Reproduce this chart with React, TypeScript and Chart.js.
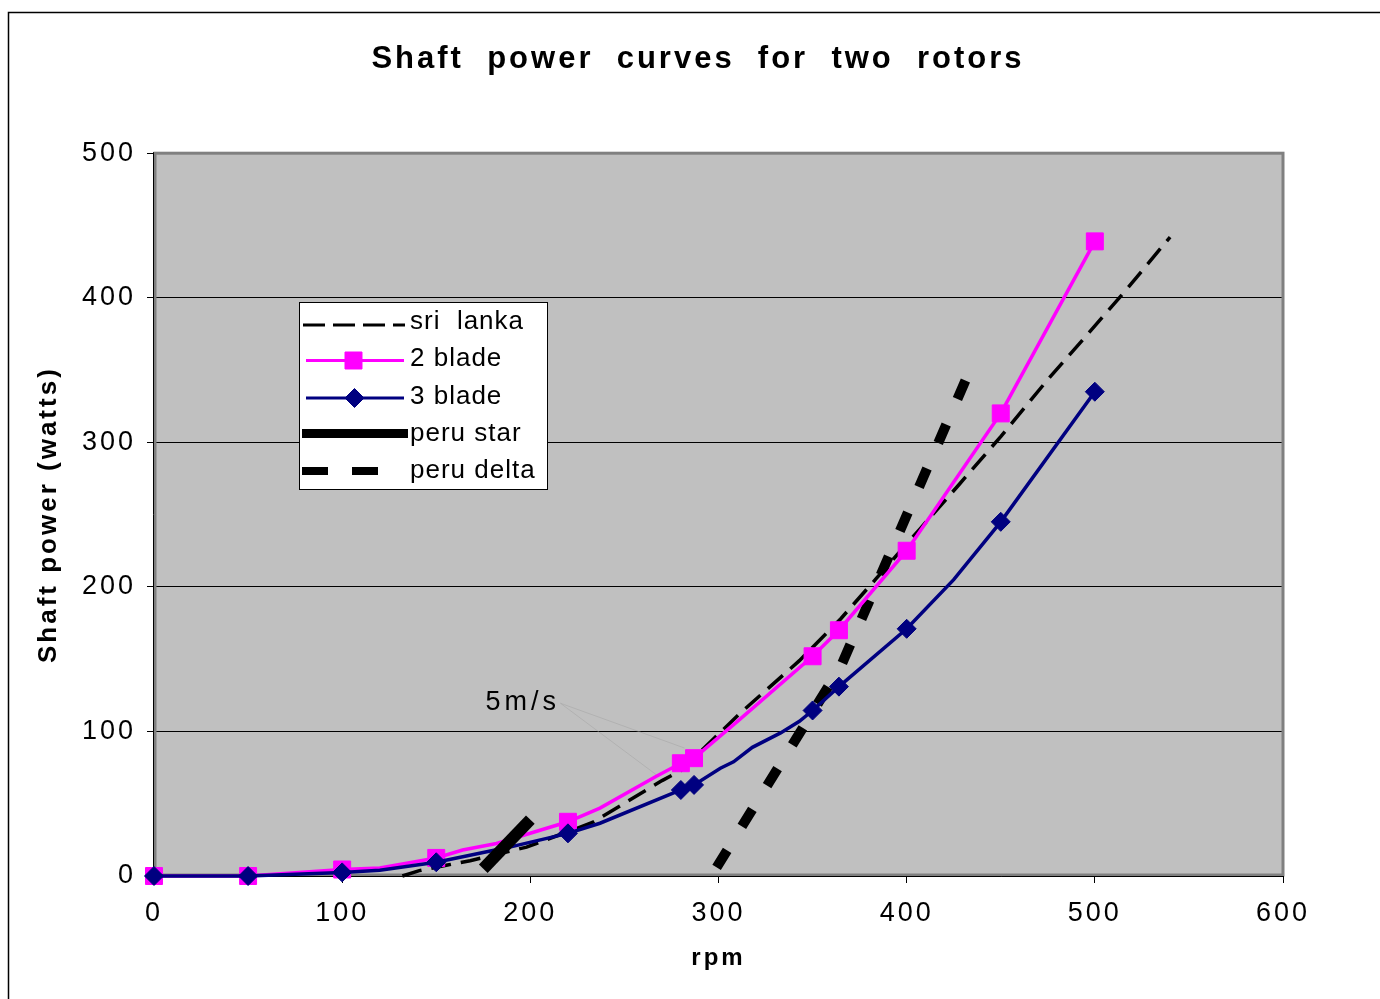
import React, { useEffect, useRef } from 'react';
import { Chart, registerables } from 'chart.js';

Chart.register(...registerables);

const FONT = '"Liberation Sans", Arial, Helvetica, sans-serif';

const chartTitle = 'Shaft  power  curves  for  two  rotors';
const xAxisTitle = 'rpm';
const yAxisTitle = 'Shaft power (watts)';
const xMin = 0;
const xMax = 600;
const xStep = 100;
const yMin = 0;
const yMax = 500;
const yStep = 100;

const seriesLabels = ['sri  lanka', '2 blade', '3 blade', 'peru star', 'peru delta'];

const sriLankaRpm = [132, 141, 156, 168, 198, 233, 270, 280, 311, 343, 365, 384, 407, 428, 450, 476, 497, 517, 540];
const sriLankaWatts = [0, 3.7, 7.6, 10.6, 20, 37, 66, 73, 112, 149, 178, 206, 240, 271, 304, 345, 376, 406, 442];

const twoBladeRpm = [0, 50, 100, 120, 150, 164, 182, 220, 237, 267, 280, 287, 311, 350, 364, 400, 450, 500];
const twoBladeWatts = [0, 0, 4.5, 5.5, 12.5, 18, 22.5, 37.5, 47, 69, 78, 81.5, 108, 152, 170, 225, 320, 439];
const twoBladeMarked = [1, 1, 1, 0, 1, 0, 0, 1, 0, 0, 1, 1, 0, 1, 1, 1, 1, 1];

const threeBladeRpm = [0, 50, 100, 120, 150, 189, 220, 237, 280, 287, 301, 308, 318, 333, 343, 350, 364, 400, 425, 450, 500];
const threeBladeWatts = [0, 0, 2.5, 4, 9.5, 20, 29.5, 36.5, 59.5, 63, 74.5, 79, 89, 99, 107, 114.5, 131, 171, 205, 245, 335];
const threeBladeMarked = [1, 1, 1, 0, 1, 0, 1, 0, 1, 1, 0, 0, 0, 0, 0, 1, 1, 1, 0, 1, 1];

const peruStarRpm = [175, 200];
const peruStarWatts = [5, 39];

const peruDeltaRpm = [299, 365, 432];
const peruDeltaWatts = [6, 145, 345];

const noteText = '5m/s';
const noteRpm = 196;
const noteWatts = 120;
const leaderFromRpm = 216;
const leaderFromWatts = 119.5;
const leaderToRpm = [267, 282];
const leaderToWatts = [70, 88.5];

const toPoints = (xs: number[], ys: number[]) => xs.map((x, i) => ({ x, y: ys[i] }));

function drawMarker(ctx: CanvasRenderingContext2D, style: string, x: number, y: number, r: number, color: string) {
  ctx.save();
  ctx.setLineDash([]);
  ctx.fillStyle = color;
  ctx.strokeStyle = color;
  ctx.lineWidth = 1;
  ctx.beginPath();
  if (style === 'rect') {
    const s = Math.SQRT1_2 * r;
    ctx.rect(x - s, y - s, 2 * s, 2 * s);
  } else {
    ctx.moveTo(x - r, y);
    ctx.lineTo(x, y - r);
    ctx.lineTo(x + r, y);
    ctx.lineTo(x, y + r);
    ctx.closePath();
  }
  ctx.fill();
  ctx.stroke();
  ctx.restore();
}

const decorPlugin = {
  id: 'decor',
  beforeDraw(chart: any) {
    const { ctx, chartArea: a } = chart;
    ctx.save();
    ctx.strokeStyle = '#000';
    ctx.lineWidth = 1.5;
    ctx.beginPath();
    ctx.moveTo(8.5, 999);
    ctx.lineTo(8.5, 12.5);
    ctx.lineTo(1380, 12.5);
    ctx.stroke();
    ctx.fillStyle = '#c0c0c0';
    ctx.fillRect(a.left, a.top, a.right - a.left, a.bottom - a.top);
    ctx.restore();
    ctx.letterSpacing = '3px';
  },
  beforeDatasetsDraw(chart: any) {
    const { ctx, chartArea: a, scales } = chart;
    ctx.letterSpacing = '0px';
    ctx.save();
    ctx.strokeStyle = '#808080';
    ctx.lineWidth = 3;
    ctx.strokeRect(a.left + 1, a.top, a.right - a.left - 1, a.bottom - a.top - 1);
    ctx.strokeStyle = '#000';
    ctx.lineWidth = 1;
    ctx.beginPath();
    ctx.moveTo(a.left - 0.5, a.top - 1);
    ctx.lineTo(a.left - 0.5, a.bottom + 0.5);
    ctx.lineTo(a.right + 1, a.bottom + 0.5);
    ctx.stroke();

    // annotation
    const xs = scales.x;
    const ys = scales.y;
    ctx.strokeStyle = 'rgba(160,160,160,0.45)';
    ctx.lineWidth = 1;
    leaderToRpm.forEach((r, i) => {
      ctx.beginPath();
      ctx.moveTo(xs.getPixelForValue(leaderFromRpm), ys.getPixelForValue(leaderFromWatts));
      ctx.lineTo(xs.getPixelForValue(r), ys.getPixelForValue(leaderToWatts[i]));
      ctx.stroke();
    });
    ctx.letterSpacing = '4px';
    ctx.font = `27px ${FONT}`;
    ctx.fillStyle = '#000';
    ctx.textAlign = 'center';
    ctx.textBaseline = 'middle';
    ctx.fillText(noteText, xs.getPixelForValue(noteRpm), ys.getPixelForValue(noteWatts));
    ctx.restore();
  },
  afterDraw(chart: any) {
    const { ctx } = chart;
    ctx.save();
    ctx.letterSpacing = '0px';
    ctx.fillStyle = '#fff';
    ctx.fillRect(299.5, 302.5, 248, 187);
    ctx.strokeStyle = '#000';
    ctx.lineWidth = 1;
    ctx.strokeRect(299.5, 302.5, 248, 187);
    const textY = [322, 359, 396.5, 433.5, 471];
    const lineY = [325, 360.5, 398, 433.5, 471];
    const spans = [[303, 405], [306, 404], [306, 404], [302, 408], [302, 378]];
    const widths = [3, 3, 3, 9, 8];
    const dashes = [[22, 8], [], [], [], [26, 24]];
    chart.data.datasets.forEach((ds: any, i: number) => {
      ctx.save();
      ctx.strokeStyle = ds.borderColor;
      ctx.lineWidth = widths[i];
      ctx.lineCap = 'butt';
      ctx.setLineDash(dashes[i]);
      ctx.beginPath();
      ctx.moveTo(spans[i][0], lineY[i]);
      ctx.lineTo(spans[i][1], lineY[i]);
      ctx.stroke();
      ctx.restore();
      if (ds.pointStyle === 'rect') drawMarker(ctx, 'rect', 353.5, lineY[i], 12, ds.borderColor);
      if (ds.pointStyle === 'rectRot') drawMarker(ctx, 'rectRot', 354.5, lineY[i], 9.5, ds.borderColor);
      ctx.save();
      ctx.letterSpacing = '1px';
      ctx.font = `26px ${FONT}`;
      ctx.fillStyle = '#000';
      ctx.textAlign = 'left';
      ctx.textBaseline = 'middle';
      ctx.fillText(ds.label, 410, textY[i]);
      ctx.restore();
    });
    ctx.restore();
  },
};

export default function App() {
  const canvasRef = useRef<HTMLCanvasElement | null>(null);

  useEffect(() => {
    if (!canvasRef.current) return;
    const chart = new Chart(canvasRef.current, {
      type: 'line',
      data: {
        datasets: [
          {
            label: seriesLabels[0],
            data: toPoints(sriLankaRpm, sriLankaWatts),
            borderColor: '#000000',
            borderWidth: 3.5,
            borderDash: [20, 10],
            pointRadius: 0,
            order: 4,
            clip: false,
          },
          {
            label: seriesLabels[1],
            data: toPoints(twoBladeRpm, twoBladeWatts),
            borderColor: '#ff00ff',
            backgroundColor: '#ff00ff',
            borderWidth: 3.5,
            pointStyle: 'rect',
            pointRadius: twoBladeMarked.map((m) => (m ? 12 : 0)),
            pointBackgroundColor: '#ff00ff',
            pointBorderColor: '#ff00ff',
            pointBorderWidth: 1,
            order: 2,
            clip: false,
          },
          {
            label: seriesLabels[2],
            data: toPoints(threeBladeRpm, threeBladeWatts),
            borderColor: '#000080',
            backgroundColor: '#000080',
            borderWidth: 3.5,
            pointStyle: 'rectRot',
            pointRadius: threeBladeMarked.map((m) => (m ? 9.5 : 0)),
            pointBackgroundColor: '#000080',
            pointBorderColor: '#000080',
            pointBorderWidth: 1,
            order: 1,
            clip: false,
          },
          {
            label: seriesLabels[3],
            data: toPoints(peruStarRpm, peruStarWatts),
            borderColor: '#000000',
            borderWidth: 12,
            borderCapStyle: 'butt',
            pointRadius: 0,
            order: 0,
            clip: false,
          },
          {
            label: seriesLabels[4],
            data: toPoints(peruDeltaRpm, peruDeltaWatts),
            borderColor: '#000000',
            borderWidth: 10,
            borderDash: [20, 28],
            borderCapStyle: 'butt',
            pointRadius: 0,
            order: 3,
            clip: false,
          },
        ],
      },
      options: {
        animation: false,
        responsive: true,
        maintainAspectRatio: false,
        events: [],
        layout: { padding: { left: 16, top: 0, right: 0, bottom: 0 } },
        plugins: {
          legend: { display: false },
          tooltip: { enabled: false },
          title: {
            display: true,
            text: chartTitle,
            color: '#000',
            font: { family: FONT, size: 31, weight: 'bold' },
            padding: { top: 41, bottom: 75 },
          },
        },
        scales: {
          x: {
            type: 'linear',
            min: xMin,
            max: xMax,
            afterFit: (s: any) => {
              s.height = 123;
            },
            ticks: {
              stepSize: xStep,
              color: '#000',
              font: { family: FONT, size: 27 },
              padding: 14,
              maxRotation: 0,
            },
            grid: { drawOnChartArea: false, drawTicks: true, tickLength: 7, color: '#000' },
            border: { display: true, color: '#000', width: 1 },
            title: {
              display: true,
              text: xAxisTitle,
              color: '#000',
              font: { family: FONT, size: 24, weight: 'bold' },
              padding: { top: 0, bottom: 26 },
            },
          },
          y: {
            type: 'linear',
            position: 'left',
            min: yMin,
            max: yMax,
            afterFit: (s: any) => {
              s.width = 138;
            },
            ticks: {
              stepSize: yStep,
              color: '#000',
              font: { family: FONT, size: 27 },
              padding: 11,
            },
            grid: { color: '#000', lineWidth: 1, drawTicks: true, tickLength: 7 },
            border: { display: true, color: '#000', width: 1 },
            title: {
              display: true,
              text: yAxisTitle,
              color: '#000',
              font: { family: FONT, size: 26, weight: 'bold' },
              padding: { top: 17, bottom: 0 },
            },
          },
          y2: {
            type: 'linear',
            position: 'right',
            display: true,
            afterFit: (s: any) => {
              s.width = 97;
            },
            ticks: { display: false },
            grid: { display: false },
            border: { display: false },
          },
        },
      } as any,
      plugins: [decorPlugin],
    });
    return () => chart.destroy();
  }, []);

  return (
    <div style={{ position: 'fixed', left: 0, top: 0, width: 1380, height: 999, background: '#fff' }}>
      <canvas ref={canvasRef} />
    </div>
  );
}
